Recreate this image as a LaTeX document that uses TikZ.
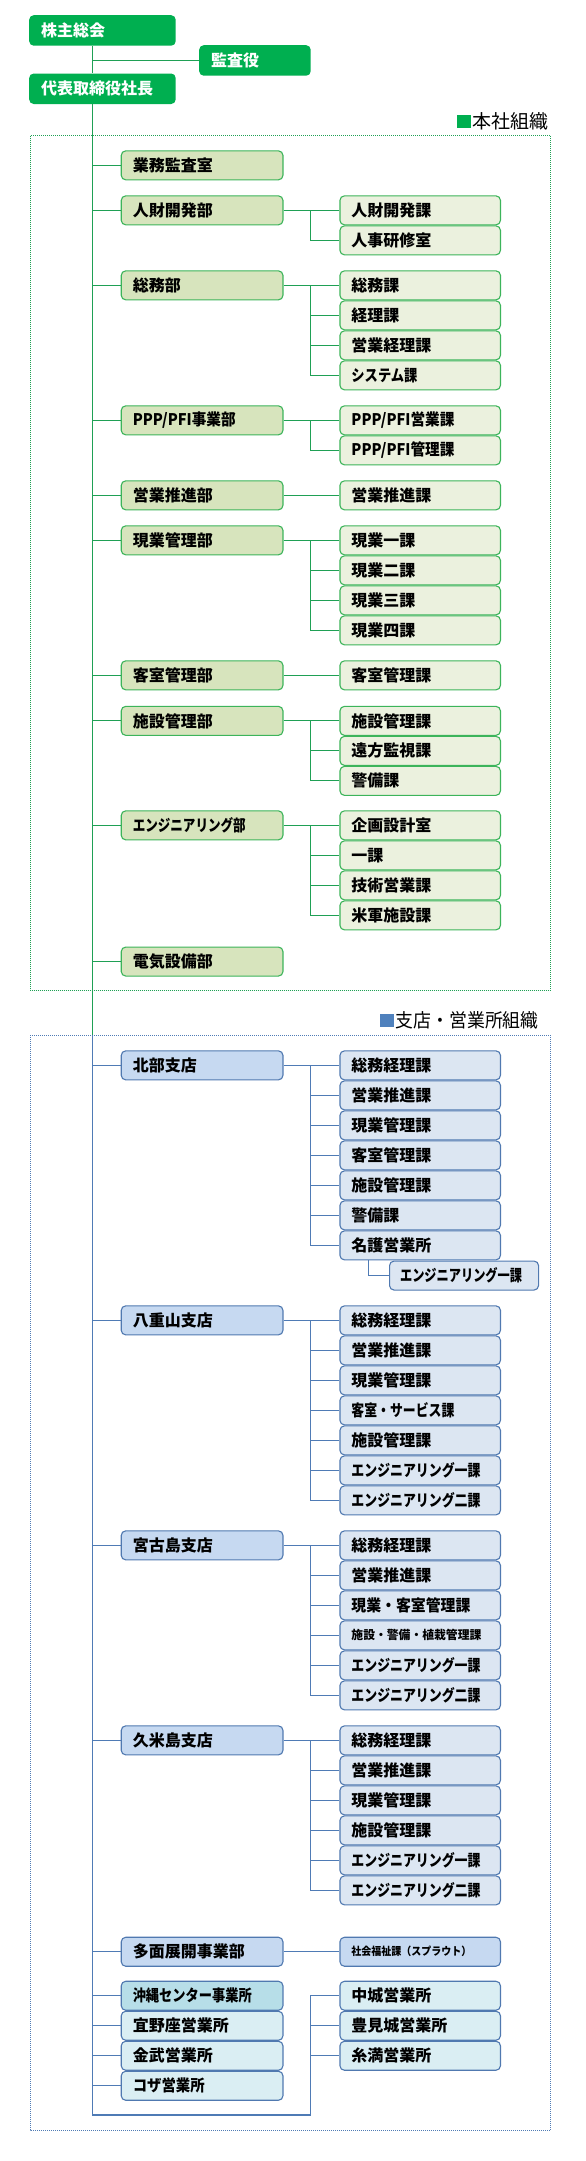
\documentclass[tikz,border=0pt]{standalone}
\usepackage{fontspec}
\usepackage{graphicx}
\setmainfont{Noto Sans CJK JP}
\definecolor{topG}{HTML}{00AF50}
\definecolor{lineG}{HTML}{1FA055}
\definecolor{boxG}{HTML}{3CB45A}
\definecolor{buF}{HTML}{D7E4BD}
\definecolor{kaF}{HTML}{EBF1DE}
\definecolor{lineB}{HTML}{4F7BB5}
\definecolor{boxB}{HTML}{5079B0}
\definecolor{shF}{HTML}{C6D9F1}
\definecolor{skF}{HTML}{DCE6F2}
\definecolor{okF}{HTML}{B7DEE8}
\definecolor{eiF}{HTML}{DAEEF3}
\definecolor{sqB}{HTML}{4F81BD}
\newcommand\smtxt[1]{{\fontsize{12}{14}\selectfont #1}}
\newcommand\xstxt[1]{{\fontsize{11}{13}\selectfont #1}}
\newcommand\fw[2]{\resizebox{#1}{\height}{#2}}
\newcommand\grp[7]{%
  \node[#3] (#1) at (120.7,#2) {#4};
  \draw[#6] (#1.west -| tx) -- (#1.west);
  \draw[#6] (#1.east) -- (#1.east -| bx);
  \foreach \lbl [count=\i from 0] in {#7} {
    \node[#5] (#1-\i) at (339.4,{#2+30*\i}) {\lbl};
    \draw[#6] (#1.east -| bx) |- (#1-\i.west);
  }%
}
\newcommand\dept[5]{%
  \node[#3] (#1) at (120.7,#2) {#4};
  \draw[#5] (#1.west -| tx) -- (#1.west);
}
\newcommand\engi{\fw{129pt}{エンジニアリング一課}}
\newcommand\engii{\fw{129pt}{エンジニアリング二課}}
\tikzset{
  obox/.style={rounded corners=4.5pt, line width=1.1pt, anchor=north west, align=left,
    inner xsep=11.5pt, inner ysep=0pt, minimum height=29pt,
    font=\fontsize{16}{19}\selectfont\bfseries},
  bu/.style={obox, text width=138.7pt},
  ka/.style={obox, text width=137.5pt},
  gbu/.style={bu, draw=boxG, fill=buF},
  gka/.style={ka, draw=boxG, fill=kaF},
  bbu/.style={bu, draw=boxB, fill=shF},
  bka/.style={ka, draw=boxB, fill=skF},
  topbox/.style={rounded corners=4.5pt, anchor=north west, align=left, fill=topG, text=white,
    inner xsep=12pt, inner ysep=0pt, minimum height=30.5pt,
    font=\fontsize{16}{19}\selectfont\bfseries},
  gl/.style={draw=lineG, line width=1.2pt},
  bl/.style={draw=lineB, line width=1.2pt},
  frameG/.style={draw=lineG, line width=0.8pt, dash pattern=on 1pt off 1pt},
  frameB/.style={draw=lineB, line width=0.8pt, dash pattern=on 1pt off 1pt},
  lab/.style={anchor=west, inner sep=0pt, font=\fontsize{19}{22}\selectfont}
}
\begin{document}
\begin{tikzpicture}[x=1pt,y=-1pt]
\useasboundingbox (0,0) rectangle (586,2161);
\fill[white] (0,0) rectangle (586,2161);
\coordinate (tx) at (92.6,0);
\coordinate (bx) at (310.5,0);
\coordinate (nx) at (368.6,0);
\coordinate (f2top) at (92.6,1035);
\coordinate (bend) at (92.6,2115);

% frames
\draw[frameG] (30,135.7) rectangle (550.5,990);
\draw[frameB] (30,1035) rectangle (550.5,2130);

% labels
\fill[topG] (457,114.5) rectangle (470.6,128.1);
\node[lab] (lab1) at (472.5,121) {\fw{76pt}{本社組織}};
\fill[sqB] (380,1013.5) rectangle (393.6,1027.1);
\node[lab] (lab2) at (395.5,1020) {\fw{143pt}{支店・営業所組織}};

% top
\node[topbox, text width=122.5pt] (kab) at (29,15) {株主総会};
\node[topbox, text width=87.5pt] (kan) at (199,45) {監査役};
\node[topbox, text width=122.5pt] (dai) at (29,73.3) {代表取締役社長};
\draw[gl] (kab.south -| tx) -- (dai.north -| tx);
\draw[gl] (kan.west -| tx) -- (kan.west);
\draw[gl] (dai.south -| tx) -- (f2top);

% head office
\dept{gyomu}{150.3}{gbu}{業務監査室}{gl}
\grp{jinzai}{195.3}{gbu}{人財開発部}{gka}{gl}{人財開発課,人事研修室}
\grp{somu}{270.3}{gbu}{総務部}{gka}{gl}{総務課,経理課,営業経理課,\fw{66pt}{システム課}}
\grp{ppp}{405.3}{gbu}{\fw{103pt}{PPP/PFI事業部}}{gka}{gl}{\fw{103pt}{PPP/PFI営業課},\fw{103pt}{PPP/PFI管理課}}
\grp{eisui}{480.3}{gbu}{営業推進部}{gka}{gl}{営業推進課}
\grp{genkan}{525.3}{gbu}{現業管理部}{gka}{gl}{現業一課,現業二課,現業三課,現業四課}
\grp{kyaku}{660.3}{gbu}{客室管理部}{gka}{gl}{客室管理課}
\grp{shisetsu}{705.8}{gbu}{施設管理部}{gka}{gl}{施設管理課,遠方監視課,警備課}
\grp{eng}{810.3}{gbu}{\fw{113pt}{エンジニアリング部}}{gka}{gl}{企画設計室,一課,技術営業課,米軍施設課}
\dept{denki}{946.5}{gbu}{電気設備部}{gl}

% branches
\draw[bl] (f2top) -- (bend) -- (bend -| bx);
\grp{hokubu}{1050.3}{bbu}{北部支店}{bka}{bl}{総務経理課,営業推進課,現業管理課,客室管理課,施設管理課,警備課,名護営業所}
\node[obox, draw=boxB, fill=skF, text width=128pt, inner xsep=10.5pt, anchor=north west] (nagoe) at (389,1260.5) {\fw{122pt}{エンジニアリング一課}};
\draw[bl] (hokubu-6.south -| nx) |- (nagoe.west);
\grp{yaeyama}{1305.3}{bbu}{八重山支店}{bka}{bl}{総務経理課,営業推進課,現業管理課,\fw{103pt}{客室・サービス課},施設管理課,\engi,\engii}
\grp{miyako}{1530.3}{bbu}{宮古島支店}{bka}{bl}{総務経理課,営業推進課,\fw{119pt}{現業・客室管理課},\fw{130pt}{\smtxt{施設・警備・植栽管理課}},\engi,\engii}
\grp{kume}{1725.3}{bbu}{久米島支店}{bka}{bl}{総務経理課,営業推進課,現業管理課,施設管理課,\engi,\engii}

\dept{tamen}{1936.7}{bbu}{多面展開事業部}{bl}
\node[bka, fill=shF] (fuku) at (339.4,1936.7) {\fw{120pt}{\xstxt{社会福祉課（スプラウト）}}};
\draw[bl] (tamen.east) -- (fuku.west);

\dept{okc}{1980.7}{bu, draw=boxB, fill=okF}{\fw{119pt}{沖縄センター事業所}}{bl}
\dept{ginoza}{2010.7}{bu, draw=boxB, fill=eiF}{宜野座営業所}{bl}
\dept{kin}{2040.7}{bu, draw=boxB, fill=eiF}{金武営業所}{bl}
\dept{koza}{2070.7}{bu, draw=boxB, fill=eiF}{\fw{72pt}{コザ営業所}}{bl}

\node[ka, draw=boxB, fill=eiF] (naka) at (339.4,1980.7) {中城営業所};
\node[ka, draw=boxB, fill=eiF] (tomi) at (339.4,2010.7) {豊見城営業所};
\node[ka, draw=boxB, fill=eiF] (itoman) at (339.4,2040.7) {糸満営業所};
\draw[bl] (bend -| bx) -- (naka.west -| bx) -- (naka.west);
\draw[bl] (tomi.west -| bx) -- (tomi.west);
\draw[bl] (itoman.west -| bx) -- (itoman.west);
\end{tikzpicture}
\end{document}
